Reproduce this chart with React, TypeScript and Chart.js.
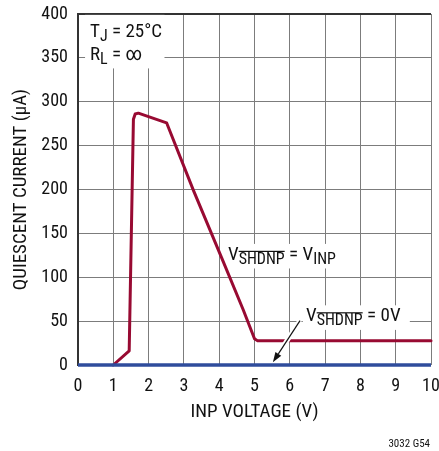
import React, { useEffect, useRef } from 'react';
import { Chart, registerables } from 'chart.js';

Chart.register(...registerables);

// ---- data ----
const xTicks = [0, 1, 2, 3, 4, 5, 6, 7, 8, 9, 10];
const yTicks = [0, 50, 100, 150, 200, 250, 300, 350, 400];

// V_SHDNP = V_INP curve
const enabledX = [1.0, 1.45, 1.57, 1.62, 1.71, 2.51, 2.56, 3.27, 4.07, 4.68, 5.0, 5.09, 10];
const enabledY = [0, 16, 280, 286, 287, 276, 271, 199, 122, 63, 30, 27.5, 27.5];

// V_SHDNP = 0V curve
const shutdownX = [0, 10];
const shutdownY = [0, 0];

const FONT = '"Roboto Condensed", "Liberation Sans", sans-serif';
const RED = '#980a32';
const BLUE = '#2f4c9c';
const GRID = '#7c7c7c';
const FRAME = '#333333';

type Seg = { t: string; sub?: boolean; over?: boolean };

function drawRich(ctx: CanvasRenderingContext2D, segs: Seg[], x: number, y: number, size: number) {
  let cx = x;
  ctx.textBaseline = 'alphabetic';
  ctx.textAlign = 'left';
  for (const s of segs) {
    const fs = s.sub ? size * 0.84 : size;
    ctx.font = `${fs}px ${FONT}`;
    const dy = s.sub ? size * 0.22 : 0;
    ctx.fillText(s.t, cx, y + dy);
    const w = ctx.measureText(s.t).width;
    if (s.over) ctx.fillRect(cx, y + dy - fs * 0.82, w, 1.2);
    cx += w;
  }
}

const annotPlugin = {
  id: 'annot',
  beforeDatasetsDraw(chart: any) {
    const ctx = chart.ctx as CanvasRenderingContext2D;
    const xs = chart.scales.x;
    const ys = chart.scales.y;
    const box = (x0: number, y0: number, x1: number, y1: number) => {
      const a = xs.getPixelForValue(x0), b = xs.getPixelForValue(x1);
      const c = ys.getPixelForValue(y0), d = ys.getPixelForValue(y1);
      ctx.fillRect(Math.min(a, b), Math.min(c, d), Math.abs(b - a), Math.abs(d - c));
    };
    ctx.save();
    ctx.fillStyle = '#ffffff';
    box(0.2, 399, 2.45, 338);
    box(4.18, 138, 7.45, 110);
    box(6.37, 68, 9.4, 40);
    ctx.restore();
  },
  afterDatasetsDraw(chart: any) {
    const ctx = chart.ctx as CanvasRenderingContext2D;
    const xs = chart.scales.x;
    const ys = chart.scales.y;
    const px = (v: number) => xs.getPixelForValue(v);
    const py = (v: number) => ys.getPixelForValue(v);
    ctx.save();
    ctx.fillStyle = '#111';
    drawRich(ctx, [{ t: 'T' }, { t: 'J', sub: true }, { t: ' = 25°C' }], px(0.34), py(373.5), 19);
    drawRich(ctx, [{ t: 'R' }, { t: 'L', sub: true }, { t: ' = ∞' }], px(0.34), py(347.5), 19);
    drawRich(ctx, [{ t: 'V' }, { t: 'SHDNP', sub: true, over: true }, { t: ' = V' }, { t: 'INP', sub: true }], px(4.25), py(120), 19);
    drawRich(ctx, [{ t: 'V' }, { t: 'SHDNP', sub: true, over: true }, { t: ' = 0V' }], px(6.46), py(50), 19);

    // arrow
    const x0 = px(6.29), y0 = py(50.5), x1 = px(5.52), y1 = py(3.2);
    const ang = Math.atan2(y1 - y0, x1 - x0);
    const L = 10, W = 3.5;
    const bx = x1 - L * Math.cos(ang), by = y1 - L * Math.sin(ang);
    ctx.strokeStyle = '#ffffff';
    ctx.lineWidth = 5;
    ctx.beginPath();
    ctx.moveTo(x0, y0);
    ctx.lineTo(bx, by);
    ctx.stroke();
    ctx.strokeStyle = '#111';
    ctx.lineWidth = 1.2;
    ctx.beginPath();
    ctx.moveTo(x0, y0);
    ctx.lineTo(bx, by);
    ctx.stroke();
    ctx.fillStyle = '#111';
    ctx.beginPath();
    ctx.moveTo(x1, y1);
    ctx.lineTo(bx + W * Math.sin(ang), by - W * Math.cos(ang));
    ctx.lineTo(bx - W * Math.sin(ang), by + W * Math.cos(ang));
    ctx.closePath();
    ctx.fill();

    // figure code
    ctx.font = `11px ${FONT}`;
    ctx.textAlign = 'right';
    ctx.textBaseline = 'alphabetic';
    ctx.fillText('3032 G54', 430, 447);
    ctx.restore();
  },
};

export default function App() {
  const ref = useRef<HTMLCanvasElement>(null);
  useEffect(() => {
    document.body.style.margin = '0';
    const chart = new Chart(ref.current as HTMLCanvasElement, {
      type: 'scatter',
      data: {
        datasets: [
          {
            data: shutdownX.map((x, i) => ({ x, y: shutdownY[i] })),
            showLine: true,
            borderColor: BLUE,
            borderWidth: 3.5,
            pointRadius: 0,
            clip: false,
          } as any,
          {
            data: enabledX.map((x, i) => ({ x, y: enabledY[i] })),
            showLine: true,
            borderColor: RED,
            borderWidth: 3,
            pointRadius: 0,
            borderJoinStyle: 'round',
            borderCapStyle: 'round',
            clip: false,
          } as any,
        ],
      },
      options: {
        responsive: false,
        animation: false,
        events: [],
        layout: { padding: { top: 14, right: 8, bottom: 27, left: 0 } },
        plugins: { legend: { display: false }, tooltip: { enabled: false } },
        scales: {
          x: {
            type: 'linear',
            min: 0,
            max: 10,
            afterBuildTicks: (s: any) => {
              s.ticks = xTicks.map((v) => ({ value: v }));
            },
            afterFit: (s: any) => {
              s.height = 59;
              s.paddingLeft = 0;
              s.paddingRight = 0;
            },
            ticks: {
              padding: 11,
              color: '#111',
              font: { family: FONT, size: 18 },
              maxRotation: 0,
              autoSkip: false,
            },
            grid: {
              color: GRID,
              lineWidth: 1,
              drawTicks: false,
            },
            border: { display: false },
            title: {
              display: true,
              text: 'INP VOLTAGE (V)',
              color: '#111',
              font: { family: FONT, size: 19 },
              padding: { top: 2, bottom: 0 },
            },
          },
          y: {
            type: 'linear',
            min: 0,
            max: 400,
            afterBuildTicks: (s: any) => {
              s.ticks = yTicks.map((v) => ({ value: v }));
            },
            afterFit: (s: any) => {
              s.width = 78;
              s.paddingTop = 0;
              s.paddingBottom = 0;
            },
            ticks: {
              padding: 10,
              color: '#111',
              font: { family: FONT, size: 18 },
            },
            grid: {
              color: (c: any) => (c.tick && c.tick.value === 400 ? FRAME : GRID),
              lineWidth: (c: any) => (c.tick && c.tick.value === 400 ? 2 : 1),
              drawTicks: false,
            },
            border: { display: true, color: FRAME, width: 2 },
            title: {
              display: true,
              text: 'QUIESCENT CURRENT (µA)',
              color: '#111',
              font: { family: FONT, size: 19 },
              padding: { top: 10, bottom: 0 },
            },
          },
        },
      },
      plugins: [annotPlugin],
    });
    return () => chart.destroy();
  }, []);
  return (
    <div style={{ position: 'absolute', left: 0, top: 0, width: 439, height: 451, background: '#fff' }}>
      <canvas ref={ref} width={439} height={451} style={{ display: 'block', width: 439, height: 451 }} />
    </div>
  );
}
